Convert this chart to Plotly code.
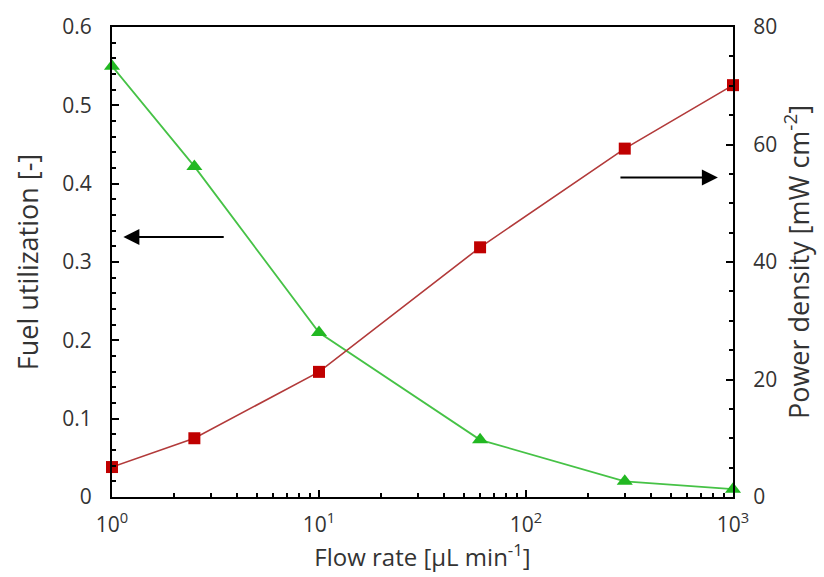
import plotly.graph_objects as go

flow_rate = [1, 2.5, 10, 60, 300, 1000]
fuel_utilization = [0.55, 0.422, 0.21, 0.073, 0.02, 0.01]
power_density = [5.1, 10.0, 21.3, 42.5, 59.3, 70.1]

x_tickvals = [1, 10, 100, 1000]
x_ticktext = ["10<sup>0</sup>", "10<sup>1</sup>", "10<sup>2</sup>", "10<sup>3</sup>"]

font_family = "Open Sans"
txt_color = "#333333"

fig = go.Figure()
fig.add_trace(go.Scatter(
    x=flow_rate, y=fuel_utilization, mode="lines+markers",
    line=dict(color="#46c246", width=1.8),
    marker=dict(symbol="triangle-up", size=14, color="#22b822"),
    yaxis="y", showlegend=False, cliponaxis=False))
fig.add_trace(go.Scatter(
    x=flow_rate, y=power_density, mode="lines+markers",
    line=dict(color="#b23a3a", width=1.6),
    marker=dict(symbol="square", size=12, color="#c00000"),
    yaxis="y2", showlegend=False, cliponaxis=False))

tick_font = dict(family=font_family, size=21, color=txt_color)
axis_common = dict(showline=True, linecolor="black", linewidth=2, showgrid=False,
                   zeroline=False, ticks="inside", tickcolor="black", tickwidth=1.5,
                   ticklen=7, tickfont=tick_font)

fig.update_layout(
    width=824, height=577,
    margin=dict(l=112, r=91, t=19, b=80),
    paper_bgcolor="white", plot_bgcolor="white",
    font=dict(family=font_family, color=txt_color),
    xaxis=dict(type="log", range=[0, 3], tickvals=x_tickvals, ticktext=x_ticktext,
               mirror=True, ticklabelstandoff=8,
               minor=dict(ticks="inside", ticklen=4, tickcolor="black", dtick="D1"),
               title=dict(text="Flow rate [μL min<sup>-1</sup>]",
                          font=dict(family=font_family, size=24, color=txt_color), standoff=4),
               **axis_common),
    yaxis=dict(range=[0, 0.6], dtick=0.1, tickformat=".1~f", ticklabelstandoff=14,
               minor=dict(ticks="inside", ticklen=4, tickcolor="black", dtick=0.02),
               title=dict(text="Fuel utilization [-]",
                          font=dict(family=font_family, size=27, color=txt_color), standoff=16),
               **axis_common),
    yaxis2=dict(range=[0, 80], dtick=20, overlaying="y", side="right", ticklabelstandoff=14,
                minor=dict(ticks="inside", ticklen=4, tickcolor="black", dtick=5),
                title=dict(text="Power density [mW cm<sup>-2</sup>]",
                           font=dict(family=font_family, size=27, color=txt_color), standoff=8),
                **axis_common),
)

fig.add_annotation(x=0.055, y=0.332, ax=0.547, ay=0.332, xref="x", yref="y",
                   axref="x", ayref="y", text="", showarrow=True,
                   arrowhead=2, arrowsize=1.6, arrowwidth=2, arrowcolor="black")
fig.add_annotation(x=2.927, y=54.4, ax=2.449, ay=54.4, xref="x", yref="y2",
                   axref="x", ayref="y2", text="", showarrow=True,
                   arrowhead=2, arrowsize=1.6, arrowwidth=2, arrowcolor="black")

fig.write_html("out.html")
